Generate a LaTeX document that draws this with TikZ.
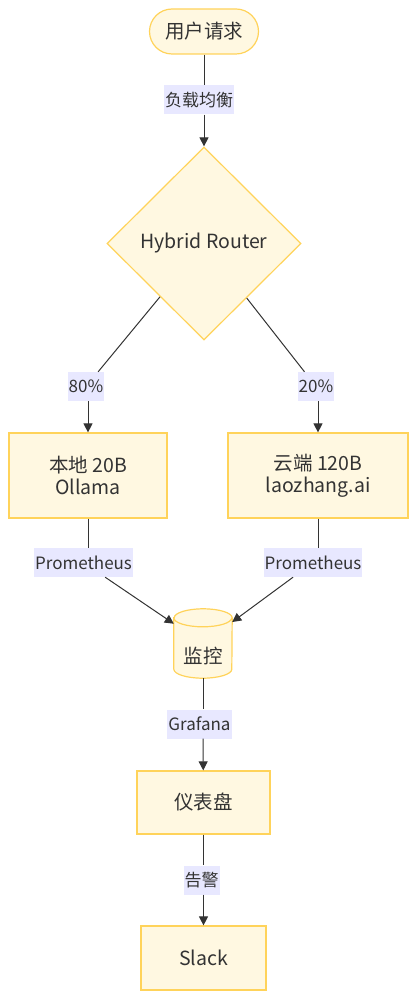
\documentclass[tikz,border=0pt]{standalone}
\usepackage{fontspec}
\setmainfont{Noto Sans CJK SC}
\usetikzlibrary{shapes.geometric,arrows.meta,backgrounds}
\definecolor{flowfill}{HTML}{FFF8E1}
\definecolor{flowedge}{HTML}{FFD35A}
\definecolor{lblfill}{HTML}{E8E8FF}
\definecolor{ink}{HTML}{333333}
\begin{document}
\begin{tikzpicture}[
  x=1pt, y=-1pt,
  flowbox/.style = {draw=flowedge, line width=1.2pt, fill=flowfill, text=ink,
    font=\fontsize{19.5}{22}\selectfont, align=center, inner sep=0pt},
  flowlbl/.style = {fill=lblfill, text=ink, font=\fontsize{17}{19}\selectfont,
    inner xsep=1pt, inner ysep=0pt, minimum height=29pt},
  flowline/.style = {draw=ink, line width=1pt},
  flowarr/.style = {flowline, ->, >={Triangle[length=9pt,width=9pt]}}
]
  \useasboundingbox (0,0) rectangle (418,1000);
  % nodes
  \node[flowbox, rounded corners=22.5pt, minimum width=109pt, minimum height=45pt]
    (req) at (204,31.5) {用户请求};
  \node[flowbox, diamond, minimum width=194pt, minimum height=193pt]
    (router) at (204,243.5) {Hybrid Router};
  \node[flowbox, minimum width=158pt, minimum height=85pt]
    (local) at (88,475.5) {本地 20B\\Ollama};
  \node[flowbox, minimum width=180pt, minimum height=85pt]
    (cloud) at (318,475.5) {云端 120B\\laozhang.ai};
  \node[text=ink, font=\fontsize{19.5}{22}\selectfont, inner sep=0pt,
    minimum width=58pt, minimum height=69pt, text height=40pt, text depth=1pt]
    (mon) at (203,643.5) {监控};
  \node[flowbox, minimum width=133pt, minimum height=63pt]
    (dash) at (203.5,802.5) {仪表盘};
  \node[flowbox, minimum width=125pt, minimum height=64pt]
    (slack) at (203.5,958) {Slack};
  % cylinder
  \begin{scope}[on background layer]
    \path[flowbox] ([yshift=-9pt]mon.north west) -- ([yshift=9pt]mon.south west)
      arc[start angle=180, end angle=360, x radius=29pt, y radius=9pt]
      -- ([yshift=-9pt]mon.north east)
      arc[start angle=0, end angle=180, x radius=29pt, y radius=9pt] -- cycle;
    \draw[draw=flowedge, line width=1.2pt] ([yshift=-9pt]mon.north west)
      arc[start angle=180, end angle=360, x radius=29pt, y radius=9pt];
  \end{scope}
  % edge labels
  \node[flowlbl] (lb) at (199,100) {负载均衡};
  \node[flowlbl] (p80) at (86,386.5) {80\%};
  \node[flowlbl] (p20) at (316,386.5) {20\%};
  \node[flowlbl] (prom1) at (83.5,562.5) {Prometheus};
  \node[flowlbl] (prom2) at (313,562.5) {Prometheus};
  \node[flowlbl] (graf) at (199.5,724) {Grafana};
  \node[flowlbl] (alert) at (201.5,880) {告警};
  % connectors
  \draw[flowline] (req) -- (req |- lb.north);
  \draw[flowarr] (req |- lb.south) -- (router);
  \draw[flowline] (router) -- (p80);
  \draw[flowarr] (p80.south -| local) -- (local);
  \draw[flowline] (router) -- (p20);
  \draw[flowarr] (p20.south -| cloud) -- (cloud);
  \draw[flowline] (local) -- (local |- prom1.north);
  \draw[flowarr] (prom1) -- (mon);
  \draw[flowline] (cloud) -- (cloud |- prom2.north);
  \draw[flowarr] (prom2) -- (mon);
  \draw[flowline] (mon) -- (mon |- graf.north);
  \draw[flowarr] (mon |- graf.south) -- (dash);
  \draw[flowline] (dash) -- (dash |- alert.north);
  \draw[flowarr] (dash |- alert.south) -- (slack);
\end{tikzpicture}
\end{document}
